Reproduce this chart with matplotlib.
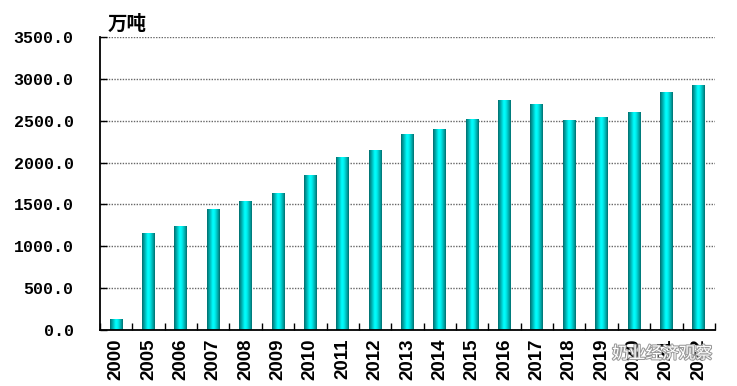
import numpy as np
import matplotlib.pyplot as plt
import matplotlib.patheffects as pe
from matplotlib.colors import LinearSegmentedColormap

years = ["2000", "2005", "2006", "2007", "2008", "2009", "2010", "2011", "2012", "2013",
         "2014", "2015", "2016", "2017", "2018", "2019", "2020", "2021", "2022"]
output = [130, 1150, 1240, 1445, 1530, 1636, 1851, 2066, 2150, 2340,
          2400, 2519, 2746, 2698, 2507, 2543, 2603, 2842, 2926]
yticks = [0, 500, 1000, 1500, 2000, 2500, 3000, 3500]
unit = "万吨"
watermark = "奶业经济观察"

plt.rcParams['font.family'] = ['Liberation Sans', 'Noto Sans CJK SC']

fig = plt.figure(figsize=(7.37, 3.86), dpi=100)
ax = fig.add_axes([0.1357, 0.145, 0.970 - 0.1357, 0.904 - 0.145])

cmap = LinearSegmentedColormap.from_list(
    "tube", [(0.0, "#006e6e"), (0.15, "#009d9d"), (0.45, "#00ffff"),
             (0.6, "#00f2f2"), (0.85, "#00a8a8"), (1.0, "#007070")])

x = np.arange(len(years))
bars = ax.bar(x, output, width=0.4, color='none', edgecolor='none', zorder=2)
grad = np.linspace(0, 1, 64).reshape(1, -1)
for b in bars:
    ax.imshow(grad, cmap=cmap, aspect='auto', interpolation='bilinear',
              extent=[b.get_x(), b.get_x() + b.get_width(), 0, b.get_height()], zorder=2)

ax.set_xlim(-0.5, len(years) - 0.5)
ax.set_ylim(0, 3500)

ax.set_yticks(yticks)
ax.set_yticklabels([f"{v:.1f}" for v in yticks], family='Liberation Mono',
                   fontweight='bold', fontsize=12)
ax.yaxis.grid(True, linestyle=(0, (1, 1)), color='#666666', linewidth=1.0, zorder=1)
ax.tick_params(axis='y', direction='in', length=5, width=1, pad=19)

ax.set_xticks(x)
ax.set_xticklabels(years, rotation=90, fontweight='bold', fontsize=13.5)
ax.set_xticks(np.arange(len(years) + 1) - 0.5, minor=True)
ax.tick_params(axis='x', which='major', length=0, pad=6)
ax.tick_params(axis='x', which='minor', direction='in', length=5, width=1)

for s in ['top', 'right']:
    ax.spines[s].set_visible(False)
for s in ['left', 'bottom']:
    ax.spines[s].set_linewidth(1.3)

fig.text(108 / 737, 1 - 24 / 386, unit, family='Noto Sans CJK SC', fontweight='bold',
         fontsize=14, va='center', ha='left')

fig.text(662 / 737, 1 - 354 / 386, watermark, family='Noto Sans CJK SC', fontsize=12,
         color='white', ha='center', va='center', zorder=10,
         path_effects=[pe.withStroke(linewidth=1.5, foreground='#9a9a9a')])

fig.savefig("out.png", dpi=100)
